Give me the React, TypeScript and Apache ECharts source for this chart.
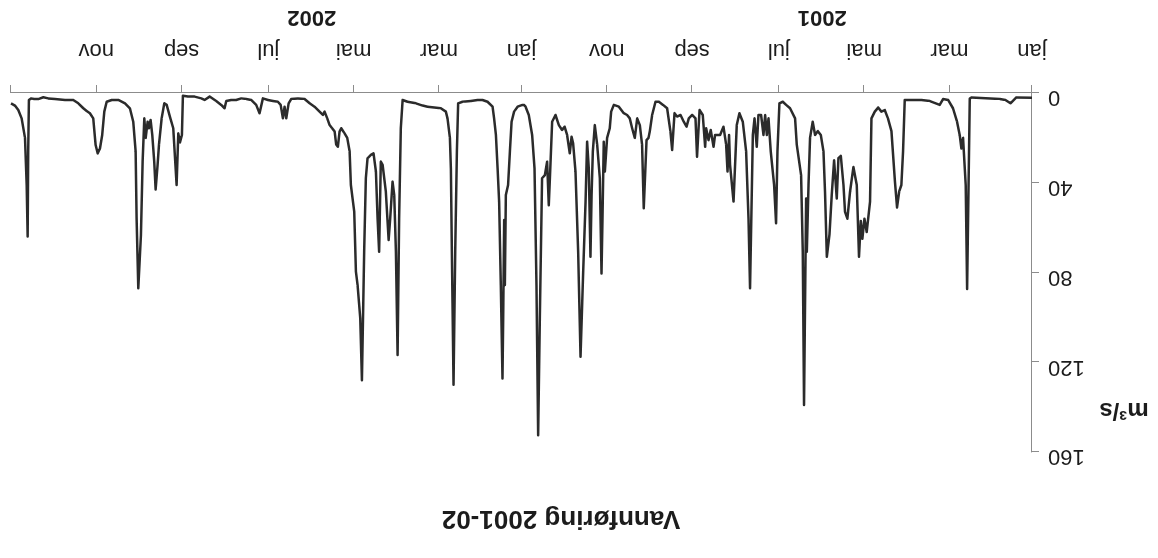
import React, { useEffect, useRef } from "react";
import * as echarts from "echarts";

// Day index since 1 Jan 2001 for the month ticks (every second month)
const monthTickDays = [0, 59, 120, 181, 243, 304, 365, 424, 485, 546, 608, 669, 730];
const monthLabelDays = [0, 59, 120, 181, 243, 304, 365, 424, 485, 546, 608, 669];
const monthNames = ["jan", "mar", "mai", "jul", "sep", "nov"];
const yearLabels = ["2001", "2002"];
const yearLabelDays = [150, 515];
const chartTitle = "Vannføring 2001-02";
const unitLabel = "m³/s";

// [day since 1 Jan 2001, m3/s]
const flow2001: [number, number][] = [
  [0, 2.1], [11.2, 2], [15.4, 4.6], [19, 3.1], [23, 2.7], [43.3, 2], [44.5, 2.5], [46.4, 87.4], [47.4, 41],
  [49.3, 20], [50.5, 24.7], [51.7, 18.7], [53.6, 12.8], [56.5, 6.8], [60, 3.1], [63.6, 2.7], [66, 5.3], [73, 3.6],
  [79, 3.1], [91, 3.1], [92.2, 26], [93.4, 41], [95, 44], [96.5, 51], [98, 39.5], [100.5, 17], [103, 11.3],
  [105.3, 7.6], [107.7, 8.3], [110, 6.5], [112.4, 8.3], [114.8, 11.3],
  [115.8, 48.4], [118.2, 62], [119.8, 56], [121.3, 65], [122.4, 57], [123.7, 73], [125.3, 41], [127.7, 33],
  [130.1, 44], [132, 56], [133.7, 53], [134.8, 41], [136.7, 28], [138.4, 29], [139.6, 47], [141.5, 30],
  [143.2, 45.5], [144.8, 63], [146.7, 73], [148, 44], [149.1, 26], [151, 18.7], [153.2, 17], [155.1, 18.7],
  [156.8, 12.8], [158.7, 20], [159.8, 41], [161, 70.7], [161.5, 47], [163, 139], [163.9, 70.7], [165.1, 36.6],
  [168.2, 23], [169.4, 11.3], [173, 6.8], [175.8, 5.3], [178.2, 3.9], [180.6, 4.6], [182, 26], [183, 58],
  [184.4, 41], [186.8, 26], [188.4, 11.3], [189.6, 18.7], [190.8, 9.8], [192, 18.7], [193.7, 9.8], [195.6, 9.8],
  [196.8, 24], [198.4, 11.3], [199.6, 18.7], [201.6, 87], [202.7, 56], [204.4, 26], [206.8, 12.8], [209.2, 9],
  [211.1, 14.3], [213.4, 48.4], [215.9, 32], [216.6, 18.7], [217.7, 35], [218.7, 23], [220.6, 15], [223, 18.7],
  [226.6, 18.7], [227.7, 24], [229.7, 16.5], [231.3, 21], [233, 15.7], [233.7, 24], [235.4, 9.8], [237.7, 7.6],
  [239.5, 28.4], [240.6, 11.3], [243, 9.8], [245.4, 11.3], [247, 15], [249, 12.8], [251.3, 9.8], [253.8, 10.5],
  [255.6, 9], [257.3, 25.4], [258.5, 17.2], [260.9, 6.8], [263.8, 5.3], [266.8, 3.9], [269.2, 3.9], [271.6, 9.8],
  [273.3, 17.2], [274.2, 20], [275.6, 21], [277.6, 51.4], [278.8, 23], [280.4, 14.3], [282.3, 11.3], [284, 20],
  [285.9, 15.7], [287.6, 11.3], [289.5, 9.8], [291.9, 9], [295.4, 6.1], [299, 5.3], [300.9, 8.3], [301.9, 15.7],
  [303.8, 20], [305.4, 35], [306.2, 21.7], [307.1, 55.9], [307.8, 80.4], [309, 38], [310.9, 23], [312.6, 14.3],
  [314, 26], [314.9, 45.5], [315.7, 73], [316.9, 33.6], [318.1, 21.7], [319.2, 48.4], [320.9, 79.6], [322.8, 117.5],
  [324.5, 70.7], [326.4, 35], [328.1, 22.4], [329.2, 19.5], [330.5, 26.9], [332.4, 18.7], [334.2, 15], [336, 16.5],
  [338.3, 14.3], [340.7, 9.8], [343.1, 12.8], [344.7, 38], [345.5, 50], [346.7, 30.6], [348.3, 36.6], [350.3, 38],
  [351.9, 100.4], [353.1, 152.5], [354.3, 85.6], [355.7, 33.6], [357.4, 18.7], [359.8, 9.8], [362.1, 6.1], [363.3, 5.3],
];

const flow2002: [number, number][] = [
  [364.3, 5.3], [367.8, 6.1], [370.3, 8.3], [372.1, 12.8], [373.3, 26], [374.6, 41], [376.2, 45.5], [376.9, 85.6],
  [377.4, 56.6], [378.1, 100.4], [378.6, 127.2], [379.8, 85.6], [381, 48.4], [382.1, 33.6], [383.3, 18.7],
  [384.6, 11.3], [385.7, 6.1], [389.3, 3.9], [392.9, 3.1], [396.4, 3.1], [401.2, 3.6], [407.2, 3.9], [410.3, 4.6],
  [411.2, 26], [412.4, 70.7], [413.6, 130], [414.8, 70.7], [415.5, 33.6], [416.2, 20], [417.9, 11.3], [419.1, 8.3],
  [422.7, 6.8], [427.4, 6.5], [432.2, 6.1], [435.7, 5.6], [440.5, 4.6], [446.5, 3.9], [450, 3.1], [451.3, 15.7],
  [452.5, 56], [453.6, 116.8], [454.8, 70.7], [456, 45.5], [457.2, 39.5], [458.9, 56], [460, 65.5], [462, 44],
  [464.3, 32], [465.6, 30.6], [466.8, 70.7], [467.9, 56], [469.1, 35], [470.8, 26.9], [472.7, 27.6], [475.1, 29.1],
  [476.3, 38], [477.5, 70.7], [479.1, 128], [480.3, 100.4], [482.2, 85.6], [483.4, 79.6], [484.6, 52.9], [485.8, 47],
  [487, 41], [487.9, 26], [489.6, 20], [491.5, 18], [493.9, 15.7], [495.1, 17.2], [496.3, 24], [497.5, 23],
  [498.6, 17.2], [500.4, 15.7], [502.2, 14.3], [503.9, 11.3], [505.8, 8.3], [507, 9.8], [509.4, 8.3], [513, 6.1],
  [516.5, 4.6], [520.1, 2.7], [524.9, 2.4], [529.7, 2.7], [531.5, 4.6], [533.2, 11.3], [534.4, 6.1], [535.6, 11.3],
  [537.2, 5.3], [539.2, 3.9], [542.7, 3.6], [546.3, 3.1], [549.9, 2.4], [552.3, 9], [554.7, 5.3], [558.3, 3.1],
  [561.8, 2.7], [565.4, 2.4], [569, 3.1], [572.6, 3.1], [576.1, 3.6], [577.3, 6.8], [579.7, 5.3], [583.3, 3.6],
  [588, 1.6], [591.6, 3.1], [594, 2.4], [598.7, 1.6], [603.5, 1.6], [607.1, 1.2], [607.8, 18.7], [609.2, 22],
  [610.4, 18], [611.6, 41], [614, 15.7], [616.4, 10.5], [618.7, 5.3], [620.4, 4.6], [622.3, 11.3], [624.2, 23],
  [625.2, 32], [626.6, 43], [627.6, 30.6], [629, 18.7], [630.2, 12], [631.4, 15.7], [632.3, 12.8], [633.7, 20],
  [634.7, 11.3], [635.9, 30.6], [637.1, 63.3], [639, 87], [640.2, 56], [640.9, 26], [642.6, 12.8], [645, 6.8],
  [648.5, 4.6], [653.3, 3.1], [658, 3.1], [661.6, 3.9], [663.3, 8.3], [664.8, 18.7], [666.4, 24.7], [668, 26.9],
  [669.5, 23.2], [671.2, 11.3], [673.6, 9], [675.9, 8], [678.3, 6.8], [681.9, 4.6], [685.5, 3.1], [691.4, 3.1],
  [698.6, 2.7], [703.4, 2.4], [706.9, 1.9], [710.5, 2.7], [713.4, 2.7], [715.7, 2.4], [717.2, 3.1], [717.7, 26],
  [718.1, 64], [718.8, 41], [720, 20], [722.4, 11.3], [724.8, 7.6], [727.2, 5.6], [730, 4.6],
];

const FONT = "'Liberation Sans', Arial, Helvetica, sans-serif";
const AXIS_COLOR = "#8c8c8c";
const TEXT_COLOR = "#1c1c1c";

export default function App() {
  const ref = useRef<HTMLDivElement>(null);

  useEffect(() => {
    if (!ref.current) return;
    const chart = echarts.init(ref.current, null, { renderer: "svg" });
    chart.setOption({
      animation: false,
      backgroundColor: "#ffffff",
      grid: { left: 126, right: 11, top: 106, bottom: 93, containLabel: false },
      xAxis: {
        type: "value",
        min: 0,
        max: 730,
        axisLine: { show: true, onZero: false, lineStyle: { color: AXIS_COLOR, width: 1 } },
        axisTick: {
          show: true,
          customValues: monthTickDays,
          length: 8,
          inside: false,
          lineStyle: { color: AXIS_COLOR, width: 1 },
        },
        axisLabel: {
          show: true,
          customValues: monthLabelDays,
          formatter: (v: number) => {
            const i = monthLabelDays.indexOf(Math.round(v));
            return i >= 0 ? monthNames[i % 6] : "";
          },
          margin: 30,
          fontSize: 22,
          fontFamily: FONT,
          color: TEXT_COLOR,
        },
        splitLine: { show: false },
      },
      yAxis: {
        type: "value",
        min: 0,
        max: 160,
        interval: 40,
        axisLine: { show: true, lineStyle: { color: AXIS_COLOR, width: 1 } },
        axisTick: { show: true, length: 7, lineStyle: { color: AXIS_COLOR, width: 1 } },
        axisLabel: {
          margin: 16,
          fontSize: 22,
          fontFamily: FONT,
          color: TEXT_COLOR,
          verticalAlign: "bottom",
          lineHeight: 12,
        },
        splitLine: { show: false },
      },
      series: [
        {
          type: "line",
          data: [...flow2001, ...flow2002],
          showSymbol: false,
          silent: true,
          lineStyle: { color: "#2b2b2b", width: 2.5, join: "round" },
        },
      ],
    });

    const yearTexts = yearLabels.map((t, i) => {
      const x = chart.convertToPixel({ xAxisIndex: 0 }, yearLabelDays[i]) as number;
      return {
        type: "text",
        x,
        y: 539,
        style: {
          text: t,
          fontSize: 22,
          fontWeight: "bold",
          fontFamily: FONT,
          fill: TEXT_COLOR,
          align: "center",
          textAlign: "center",
          verticalAlign: "middle",
          textVerticalAlign: "middle",
        },
      };
    });

    chart.setOption({
      graphic: [
        ...yearTexts,
        {
          type: "text",
          x: 597,
          y: 38,
          style: {
            text: chartTitle,
            fontSize: 26,
            fontWeight: "bold",
            fontFamily: FONT,
            fill: TEXT_COLOR,
            align: "center",
            textAlign: "center",
            verticalAlign: "middle",
            textVerticalAlign: "middle",
          },
        },
        {
          type: "text",
          x: 34,
          y: 146,
          style: {
            text: unitLabel,
            fontSize: 24,
            fontWeight: "bold",
            fontFamily: FONT,
            fill: TEXT_COLOR,
            align: "center",
            textAlign: "center",
            verticalAlign: "middle",
            textVerticalAlign: "middle",
          },
        },
      ],
    });

    return () => chart.dispose();
  }, []);

  return (
    <div
      ref={ref}
      style={{
        position: "fixed",
        left: 0,
        top: 0,
        width: 1158,
        height: 558,
        transform: "rotate(180deg)",
        background: "#ffffff",
      }}
    />
  );
}
